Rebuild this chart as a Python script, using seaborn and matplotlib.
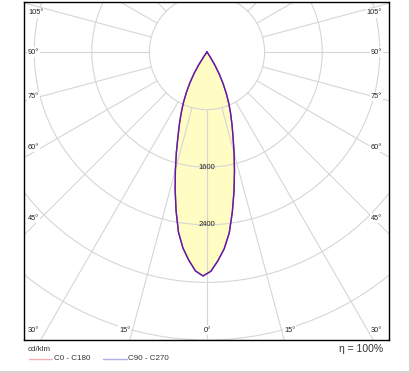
import numpy as np
import pandas as pd
import seaborn as sns
import matplotlib.pyplot as plt
from matplotlib.patches import Circle
from matplotlib.lines import Line2D

# --- values (cd/klm over signed gamma angle, negative = C270 side) ---
gamma_deg = [-37, -35, -33, -31, -29, -27, -25, -23, -21, -19, -17, -15, -13, -11, -9, -7, -5,
             -3, -1, 1, 3, 5, 7, 9, 11, 13, 15, 17, 19, 21, 23, 25, 27, 29, 31, 33, 35]
intensity_cd = [0, 69, 208, 351, 492, 632, 774, 915, 1067, 1238, 1454, 1697, 1967, 2250,
                2533, 2743, 2903, 3046, 3111,
                3046, 2903, 2743, 2533, 2250, 1967, 1697, 1454, 1238, 1067, 915, 774, 632,
                492, 351, 208, 69, 0]
planes = ["C0 - C180", "C90 - C270"]
plane_colors = ["#e03030", "#3a1ad0"]
legend_colors = ["#f0b0b8", "#b0b0e8"]
ring_cd = [800, 1600, 2400, 3200, 4000, 4800]
ring_labels = [1600, 2400]
side_angles = [105, 90, 75, 60, 45, 30]
bottom_angles = [15, 0]
unit = "cd/klm"
efficiency = "η = 100%"

sns.set_theme(style="white")
plt.rcParams["font.family"] = ["Liberation Sans", "DejaVu Sans"]

W, H = 411, 373
CX, CY = 207, 52          # pole of the diagram in pixels
S = 800 / 57.6            # cd per pixel
GRID = "#d6d6d6"


def px2data(px, py):
    return (px - CX) * S, (CY - py) * S


fig = plt.figure(figsize=(W / 100, H / 100), dpi=100)
ax = fig.add_axes([24 / W, 1 - 340 / H, 365 / W, 338 / H])
ax.set_xlim((24 - CX) * S, (389 - CX) * S)
ax.set_ylim((CY - 340) * S, (CY - 2) * S)
ax.set_aspect("equal")

df = pd.DataFrame({"gamma": gamma_deg, "cd": intensity_cd})
df["x"] = df["cd"] * np.sin(np.deg2rad(df["gamma"]))
df["y"] = -df["cd"] * np.cos(np.deg2rad(df["gamma"]))

ax.fill(df["x"], df["y"], color="#fffcc4", lw=0, zorder=0.5)

# grid rings and radial lines
for r in ring_cd:
    ax.add_patch(Circle((0, 0), r, fill=False, ec=GRID, lw=0.8, zorder=1))
for a in range(0, 360, 15):
    t = np.deg2rad(a)
    ax.plot([800 * np.sin(t), 9000 * np.sin(t)], [-800 * np.cos(t), -9000 * np.cos(t)],
            color=GRID, lw=0.8, zorder=1)

sns.lineplot(data=df, x="x", y="y", sort=False, estimator=None, color=plane_colors[0],
             lw=1.0, ax=ax, legend=False, zorder=3)
sns.lineplot(data=df, x="x", y="y", sort=False, estimator=None, color=plane_colors[1],
             lw=1.0, alpha=0.85, ax=ax, legend=False, zorder=3.1)

for v in ring_labels:
    ax.text(0, -v, str(v), ha="center", va="center", fontsize=5.5, color="#222222", zorder=4)

box = dict(boxstyle="square,pad=0.15", fc="white", ec="none")
for a in side_angles:
    ypx = CY + 166 / np.tan(np.deg2rad(a))
    ypx = min(max(ypx, 13), 330)
    for xpx, ha in [(28, "left"), (382, "right")]:
        ax.text(*px2data(xpx, ypx), f"{a}°", ha=ha, va="center", fontsize=5.3,
                color="#222222", bbox=box, zorder=4, clip_on=False)
for a in bottom_angles:
    dx = (330 - CY) * np.tan(np.deg2rad(a))
    offs = [0] if a == 0 else [-(dx + 8), dx + 8]
    for o in offs:
        ax.text(*px2data(CX + o, 330), f"{a}°", ha="center", va="center", fontsize=5.3,
                color="#222222", bbox=box, zorder=4, clip_on=False)

ax.set_xlabel("")
ax.set_ylabel("")
ax.set_xticks([])
ax.set_yticks([])
for sp in ax.spines.values():
    sp.set_color("black")
    sp.set_linewidth(1.0)
    sp.set_zorder(5)

# legend below the frame
fig.text(28 / W, 1 - 349.5 / H, unit, ha="left", va="center", fontsize=5.8, color="#333333")
fig.text(383 / W, 1 - 349 / H, efficiency, ha="right", va="center", fontsize=7.5, color="#333333")
for (x0, x1, xt), name, col in zip([(29, 52, 54), (103, 127, 128)], planes, legend_colors):
    fig.add_artist(Line2D([x0 / W, x1 / W], [1 - 359 / H] * 2, color=col, lw=1.0))
    fig.text(xt / W, 1 - 359 / H, name, ha="left", va="center", fontsize=5.8, color="#333333")

# light outer border on the right and bottom
fig.add_artist(Line2D([409.5 / W] * 2, [1, 1 - 372 / H], color="#d4d4d4", lw=1.5))
fig.add_artist(Line2D([0, 410 / W], [1 - 371.5 / H] * 2, color="#d4d4d4", lw=1.5))

fig.savefig("out.png", dpi=100)
